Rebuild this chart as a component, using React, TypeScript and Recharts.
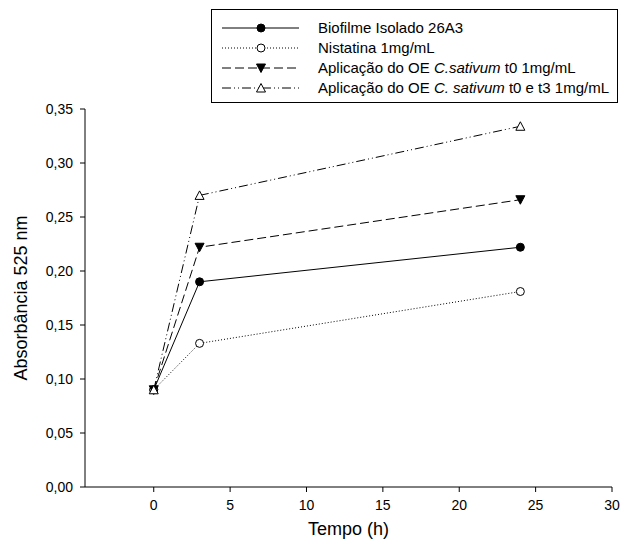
import React from 'react';
import { LineChart, Line, XAxis, YAxis, Legend } from 'recharts';

const tempo = [0, 3, 24];
const biofilme = [0.09, 0.19, 0.222];
const nistatina = [0.09, 0.133, 0.181];
const oeT0 = [0.09, 0.222, 0.266];
const oeT0T3 = [0.09, 0.27, 0.334];

const xTicks = [0, 5, 10, 15, 20, 25, 30];
const yTicks = [0, 0.05, 0.1, 0.15, 0.2, 0.25, 0.3, 0.35];

const FONT = '"Liberation Sans", Arial, sans-serif';

type Marker = 'circle' | 'openCircle' | 'down' | 'openUp';

const series: Array<{ key: string; values: number[]; dash?: string; marker: Marker; label: React.ReactNode }> = [
  { key: 'biofilme', values: biofilme, marker: 'circle', label: 'Biofilme Isolado 26A3' },
  { key: 'nistatina', values: nistatina, dash: '1 2', marker: 'openCircle', label: 'Nistatina 1mg/mL' },
  {
    key: 'oeT0',
    values: oeT0,
    dash: '9 4',
    marker: 'down',
    label: (
      <>
        Aplicação do OE <tspan fontStyle="italic">C.sativum</tspan> t0 1mg/mL
      </>
    ),
  },
  {
    key: 'oeT0T3',
    values: oeT0T3,
    dash: '9 3 1 3 1 3',
    marker: 'openUp',
    label: (
      <>
        Aplicação do OE <tspan fontStyle="italic">C. sativum</tspan> t0 e t3 1mg/mL
      </>
    ),
  },
];

const data = tempo.map((t, i) => {
  const row: Record<string, number> = { tempo: t };
  series.forEach((s) => {
    row[s.key] = s.values[i];
  });
  return row;
});

function drawMarker(kind: Marker, cx: number, cy: number, key?: string) {
  switch (kind) {
    case 'circle':
      return <circle key={key} cx={cx} cy={cy} r={4} fill="#000" stroke="#000" />;
    case 'openCircle':
      return <circle key={key} cx={cx} cy={cy} r={4} fill="#fff" stroke="#000" />;
    case 'down':
      return (
        <polygon key={key} points={`${cx - 4.5},${cy - 4} ${cx + 4.5},${cy - 4} ${cx},${cy + 4.5}`} fill="#000" stroke="#000" />
      );
    default:
      return (
        <polygon key={key} points={`${cx - 4.5},${cy + 4} ${cx + 4.5},${cy + 4} ${cx},${cy - 4.5}`} fill="#fff" stroke="#000" />
      );
  }
}

const fmtY = (v: number) => v.toFixed(2).replace('.', ',');

function LegendBox() {
  return (
    <div style={{ width: 407, height: 94, border: '1px solid #000', boxSizing: 'border-box', background: '#fff' }}>
      <svg width={405} height={92}>
        {series.map((s, i) => {
          const y = 18 + i * 20;
          return (
            <g key={s.key}>
              <line x1={10} x2={87} y1={y} y2={y} stroke="#000" strokeDasharray={s.dash} />
              {drawMarker(s.marker, 49, y)}
              <text x={106} y={y + 5} fontSize={15} fontFamily={FONT} fill="#000">
                {s.label}
              </text>
            </g>
          );
        })}
      </svg>
    </div>
  );
}

export default function App() {
  return (
    <div style={{ position: 'absolute', left: 0, top: 0, width: 628, height: 552, background: '#fff' }}>
      <LineChart width={628} height={552} data={data} margin={{ top: 109, right: 16, bottom: 0, left: 0 }}>
        <XAxis
          type="number"
          dataKey="tempo"
          domain={[-4.5, 30]}
          ticks={xTicks}
          allowDataOverflow
          stroke="#000"
          tickSize={5}
          tickMargin={8}
          height={65}
          tick={{ fontSize: 14, fill: '#000', fontFamily: FONT }}
          label={{ value: 'Tempo (h)', position: 'insideBottom', offset: 17, fontSize: 18, fill: '#000', fontFamily: FONT }}
        />
        <YAxis
          type="number"
          domain={[0, 0.35]}
          ticks={yTicks}
          tickFormatter={fmtY}
          stroke="#000"
          width={85}
          tickSize={5}
          tickMargin={7}
          tick={{ fontSize: 14, fill: '#000', fontFamily: FONT }}
          label={{
            value: 'Absorbância 525 nm',
            angle: -90,
            position: 'insideLeft',
            offset: 21,
            fontSize: 18,
            fill: '#000',
            fontFamily: FONT,
            style: { textAnchor: 'middle' },
          }}
        />
        <Legend
          layout="horizontal"
          verticalAlign="middle"
          align="center"
          content={() => <LegendBox />}
          wrapperStyle={{ position: 'absolute', left: 211, top: 9, width: 407, height: 94 }}
        />
        {series.map((s) => (
          <Line
            key={s.key}
            dataKey={s.key}
            type="linear"
            stroke="#000"
            strokeWidth={1}
            strokeDasharray={s.dash}
            isAnimationActive={false}
            dot={(p: any) => drawMarker(s.marker, p.cx, p.cy, `${s.key}-${p.index}`)}
            activeDot={false}
          />
        ))}
      </LineChart>
    </div>
  );
}
